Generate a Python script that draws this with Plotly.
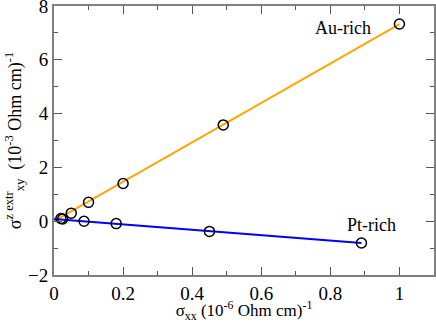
import plotly.graph_objects as go

# Au-rich series
au_x = [0.02, 0.05, 0.10, 0.20, 0.49, 1.00]
au_y = [0.10, 0.30, 0.70, 1.40, 3.58, 7.33]
# Pt-rich series
pt_x = [0.025, 0.087, 0.18, 0.45, 0.89]
pt_y = [0.08, 0.00, -0.09, -0.38, -0.81]

# linear fit lines
au_fit_x = [0.0, 1.00]
au_fit_y = [0.0, 7.33]
pt_fit_x = [0.0, 0.89]
pt_fit_y = [0.085, -0.81]

font_family = "Liberation Serif"

fig = go.Figure()

fig.add_trace(go.Scatter(x=au_fit_x, y=au_fit_y, mode="lines",
                         line=dict(color="#FFA500", width=2), showlegend=False))
fig.add_trace(go.Scatter(x=pt_fit_x, y=pt_fit_y, mode="lines",
                         line=dict(color="#0000FF", width=2), showlegend=False))
for xs, ys in [(au_x, au_y), (pt_x, pt_y)]:
    fig.add_trace(go.Scatter(
        x=xs, y=ys, mode="markers", showlegend=False,
        marker=dict(symbol="circle-open", size=10, color="black",
                    line=dict(color="black", width=1.5))
    ))

fig.add_annotation(x=0.836, y=7.2, text="Au-rich", showarrow=False,
                   font=dict(size=18, color="black", family=font_family))
fig.add_annotation(x=0.92, y=-0.15, text="Pt-rich", showarrow=False,
                   font=dict(size=18, color="black", family=font_family))

axis_common = dict(
    showline=True, linecolor="#808080", linewidth=2, mirror="allticks",
    ticks="inside", ticklen=8, tickwidth=1, tickcolor="#555555",
    showgrid=False, zeroline=False, automargin=False,
    ticklabeloverflow="allow",
    tickfont=dict(size=19, color="black", family=font_family),
)

fig.update_xaxes(
    range=[0, 1.1], tickvals=[0, 0.2, 0.4, 0.6, 0.8, 1.0],
    ticktext=["0", "0.2", "0.4", "0.6", "0.8", "1"],
    minor=dict(dtick=0.1, ticks="inside", ticklen=4, tickcolor="#555555"),
    title=dict(text="σ<sub>xx</sub> (10<sup>-6</sup> Ohm cm)<sup>-1</sup>",
               font=dict(size=17, color="black", family=font_family), standoff=4),
    **axis_common
)
fig.update_yaxes(
    range=[-2, 8], tickvals=[-2, 0, 2, 4, 6, 8],
    minor=dict(dtick=1, ticks="inside", ticklen=4, tickcolor="#555555"),
    title=dict(text="σ<sup>z extr</sup><sub>xy</sub>  (10<sup>-3</sup> Ohm cm)<sup>-1</sup>",
               font=dict(size=18, color="black", family=font_family), standoff=2),
    **axis_common
)

fig.update_layout(
    width=436, height=323,
    margin=dict(l=54, r=2, t=6, b=48),
    plot_bgcolor="white", paper_bgcolor="white",
    font=dict(family=font_family, color="black"),
)

# drop the page's default body margin so the figure sits at the window corner
fig.write_html("out.html", config={"displayModeBar": False},
               post_script="document.body.style.margin='0';")
